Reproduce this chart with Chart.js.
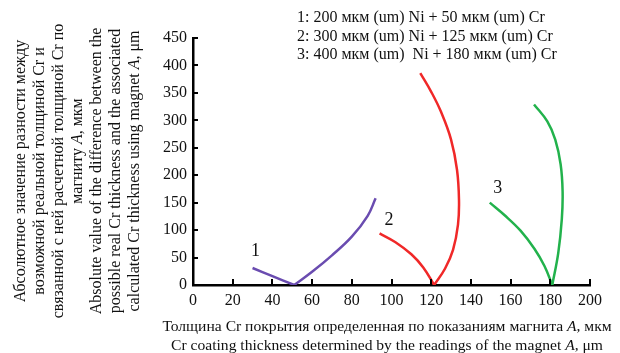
<!DOCTYPE html>
<html>
<head>
<meta charset="utf-8">
<script src="https://cdn.jsdelivr.net/npm/chart.js@4/dist/chart.umd.min.js"></script>
<style>
  html, body { margin: 0; padding: 0; background: #fff; }
</style>
</head>
<body>
<canvas id="chart" width="620" height="353"></canvas>
<script>
// axis ticks
const xTicks = [0, 20, 40, 60, 80, 100, 120, 140, 160, 180, 200];
const yTicks = [0, 50, 100, 150, 200, 250, 300, 350, 400, 450];

// curve 1: 200 um Ni + 50 um Cr
const c1LeftX = [30, 40, 51];
const c1LeftY = [31, 16, 0];
const c1RightX = [51, 60, 70, 80, 88, 92];
const c1RightY = [0, 24, 54, 88, 126, 158];

// curve 2: 300 um Ni + 125 um Cr
const c2LeftX = [94, 102, 110, 116, 121.5];
const c2LeftY = [94, 78, 56, 32, 0];
const c2RightX = [121.5, 127, 131, 133.5, 134, 133, 130, 125, 120, 114.5];
const c2RightY = [0, 30, 64, 110, 155, 210, 265, 315, 352, 386];

// curve 3: 400 um Ni + 180 um Cr
const c3LeftX = [149.5, 157, 165, 172, 177, 181];
const c3LeftY = [150, 127, 99, 66, 35, 0];
const c3RightX = [181, 184, 185.8, 186.2, 185.2, 182.5, 178.5, 171.8];
const c3RightY = [0, 58, 120, 170, 220, 265, 298, 329];

// curve numbers and where they sit (data units)
const curveNames = ['1', '2', '3'];
const curveNameX = [31.5, 98.7, 153.5];
const curveNameY = [61, 118, 177];

const legendLines = [
  '1: 200 мкм (um) Ni + 50 мкм (um) Cr',
  '2: 300 мкм (um) Ni + 125 мкм (um) Cr',
  '3: 400 мкм (um)  Ni + 180 мкм (um) Cr'
];

// *A* = italic
const xTitleLines = [
  'Толщина Cr покрытия определенная по показаниям магнита *A*, мкм',
  'Cr coating thickness determined by the readings of the magnet *A*, μm'
];
const yTitleLines = [
  'Абсолютное значение разности между',
  'возможной реальной толщиной Cr и',
  'связанной с ней расчетной толщиной Cr по',
  'магниту *A*, мкм',
  'Absolute value of the difference between the',
  'possible real Cr thickness and the associated',
  'calculated Cr thickness using magnet *A*, μm'
];

const purple = '#6a4cb0';
const red = '#f02828';
const green = '#22b24c';
const serif = '"Liberation Serif", "Times New Roman", serif';

function pts(xs, ys) {
  return xs.map((x, i) => ({ x: x, y: ys[i] }));
}

function branch(xs, ys, color) {
  return {
    data: pts(xs, ys),
    showLine: true,
    borderColor: color,
    borderWidth: 2.5,
    pointRadius: 0,
    tension: 0.4,
    fill: false
  };
}

// draw a line of text with *italic* parts, centred on x
function richText(ctx, line, x, y, size) {
  const parts = line.split('*');
  let total = 0;
  parts.forEach((p, i) => {
    ctx.font = (i % 2 ? 'italic ' : '') + size + 'px ' + serif;
    total += ctx.measureText(p).width;
  });
  let cx = x - total / 2;
  ctx.textAlign = 'left';
  parts.forEach((p, i) => {
    ctx.font = (i % 2 ? 'italic ' : '') + size + 'px ' + serif;
    ctx.fillText(p, cx, y);
    cx += ctx.measureText(p).width;
  });
}

const extras = {
  id: 'extras',
  afterDraw(chart) {
    const ctx = chart.ctx;
    const xs = chart.scales.x, ys = chart.scales.y;
    const area = chart.chartArea;
    ctx.save();

    // ticks pointing into the plot
    ctx.strokeStyle = '#000';
    ctx.lineWidth = 2;
    ctx.beginPath();
    yTicks.forEach(v => {
      const py = Math.round(ys.getPixelForValue(v));
      ctx.moveTo(area.left, py);
      ctx.lineTo(area.left + 5, py);
    });
    xTicks.forEach(v => {
      const px = Math.round(xs.getPixelForValue(v));
      ctx.moveTo(px, area.bottom);
      ctx.lineTo(px, area.bottom - 6);
    });
    ctx.stroke();

    ctx.fillStyle = '#111';
    ctx.textBaseline = 'middle';

    // curve numbers
    ctx.font = '18px ' + serif;
    ctx.textAlign = 'center';
    curveNames.forEach((n, i) => {
      ctx.fillText(n, xs.getPixelForValue(curveNameX[i]), ys.getPixelForValue(curveNameY[i]));
    });

    // legend text
    ctx.font = '16px ' + serif;
    ctx.textAlign = 'left';
    legendLines.forEach((l, i) => {
      ctx.fillText(l, 297, 18 + i * 18.5);
    });

    // x title
    xTitleLines.forEach((l, i) => {
      richText(ctx, l, 387, 327 + i * 18.5, 15.6);
    });

    // y title, rotated
    ctx.rotate(-Math.PI / 2);
    yTitleLines.forEach((l, i) => {
      const cy = i === 3 ? 151 : 171;
      richText(ctx, l, -cy, 21 + i * 18.9, 16);
    });
    ctx.restore();
  }
};

new Chart(document.getElementById('chart'), {
  type: 'scatter',
  data: {
    datasets: [
      branch(c1LeftX, c1LeftY, purple),
      branch(c1RightX, c1RightY, purple),
      branch(c2LeftX, c2LeftY, red),
      branch(c2RightX, c2RightY, red),
      branch(c3LeftX, c3LeftY, green),
      branch(c3RightX, c3RightY, green)
    ]
  },
  options: {
    responsive: false,
    animation: false,
    devicePixelRatio: 1,
    layout: { padding: { left: 133, right: 30, top: 38, bottom: 0 } },
    plugins: {
      legend: { display: false },
      tooltip: { enabled: false }
    },
    scales: {
      x: {
        type: 'linear',
        min: 0,
        max: 200,
        afterFit(scale) { scale.height = 68; },
        afterBuildTicks(scale) { scale.ticks = xTicks.map(v => ({ value: v })); },
        grid: { display: false, drawTicks: false },
        border: { display: true, color: '#000', width: 2.5 },
        ticks: { color: '#111', padding: 6, font: { family: serif, size: 16 }, maxRotation: 0 }
      },
      y: {
        type: 'linear',
        min: 0,
        max: 450,
        afterFit(scale) { scale.width = 60; },
        afterBuildTicks(scale) { scale.ticks = yTicks.map(v => ({ value: v })); },
        grid: { display: false, drawTicks: false },
        border: { display: true, color: '#000', width: 2.5 },
        ticks: { color: '#111', padding: 6, font: { family: serif, size: 16 } }
      }
    }
  },
  plugins: [extras]
});
</script>
</body>
</html>
